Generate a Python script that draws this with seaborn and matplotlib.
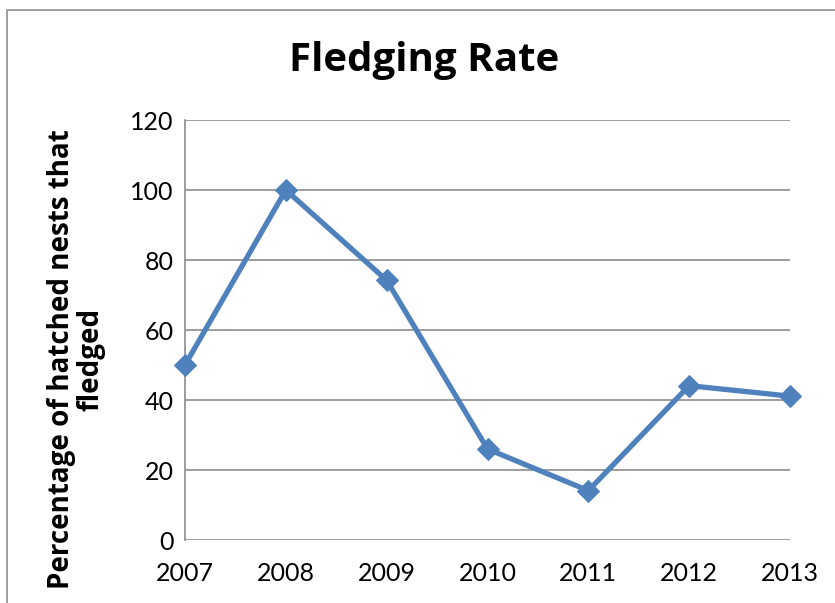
import matplotlib
matplotlib.use("Agg")

import pandas as pd
import seaborn as sns
import matplotlib.pyplot as plt
from matplotlib.patches import Rectangle


# data
years = [2007, 2008, 2009, 2010, 2011, 2012, 2013]
fledge_pct = [50.0, 100.0, 74.2, 26.0, 14.1, 44.1, 41.1]
y_ticks = [0, 20, 40, 60, 80, 100, 120]

df = pd.DataFrame({"Year": years, "Fledged": fledge_pct})

sns.set_theme(style="white")
plt.rcParams["font.family"] = ["Lato", "DejaVu Sans"]
plt.rcParams["text.color"] = "black"
plt.rcParams["axes.labelcolor"] = "black"

fig = plt.figure(figsize=(8.35, 6.03), dpi=100)
ax = fig.add_axes([185 / 835, 63 / 603, 605 / 835, 420 / 603])

sns.lineplot(
    data=df,
    x="Year",
    y="Fledged",
    color="#4F81BD",
    linewidth=3.8,
    marker="D",
    markersize=11,
    markeredgecolor="#4F81BD",
    ax=ax,
    clip_on=False,
    zorder=3
)

ax.set_xlim(2007, 2013)
ax.set_ylim(0, 120)
ax.set_xticks(years)
ax.set_xticklabels([str(y) for y in years])
ax.set_yticks(y_ticks)
ax.yaxis.grid(True, color="#8c8c8c", linewidth=1.2)
ax.xaxis.grid(False)
for side in ["top", "right", "bottom"]:
    ax.spines[side].set_visible(False)
ax.spines["left"].set_color("#8c8c8c")
ax.spines["left"].set_linewidth(1.2)
ax.tick_params(axis="both", length=0, labelsize=18, colors="black")
ax.tick_params(axis="x", pad=16)
ax.tick_params(axis="y", pad=8)

ax.set_xlabel("")
ax.set_ylabel("Percentage of hatched nests that\nfledged",
              fontsize=20, fontweight="bold", family=["Open Sans", "DejaVu Sans"],
              color="black", linespacing=1.0)
ax.yaxis.set_label_coords(-0.132, 0.43)

fig.text(424 / 835, 1 - 60 / 603, "Fledging Rate", ha="center", va="center",
         fontsize=29, fontweight="bold", color="black",
         family=["Open Sans", "DejaVu Sans"])

# chart border
fig.patches.append(Rectangle((7 / 835, -0.02), 1.0, 1 - 10 / 603 + 0.02,
                             transform=fig.transFigure, fill=False,
                             edgecolor="#8c8c8c", linewidth=1.2))

fig.savefig("out.png", dpi=100)
